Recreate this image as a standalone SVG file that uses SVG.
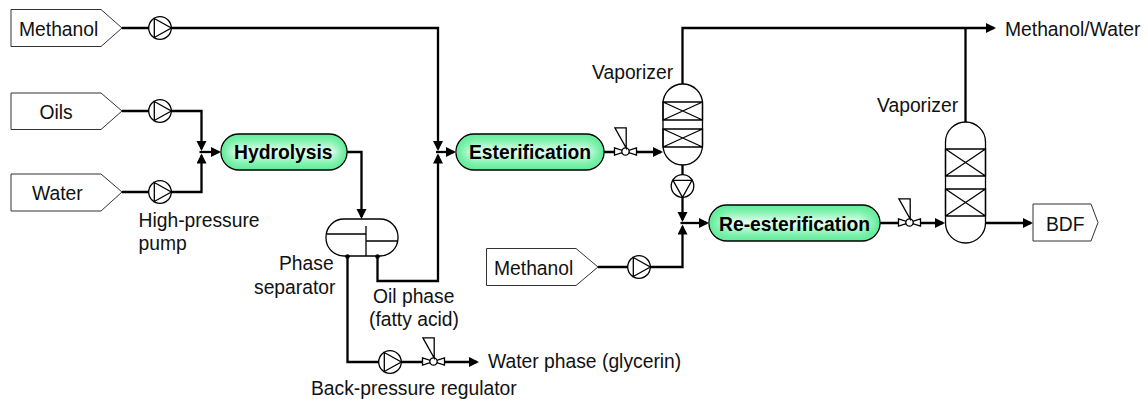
<svg xmlns="http://www.w3.org/2000/svg" xmlns:xlink="http://www.w3.org/1999/xlink" width="1148" height="399" viewBox="0 0 1148 399">
<style>
text{font-family:"Liberation Sans",Arial,sans-serif;font-size:19.3px;fill:#111}
.b{font-weight:bold;fill:#000}
.tag{fill:#fff;stroke:#333;stroke-width:1}
.ln{fill:none;stroke:#000;stroke-width:2.3;stroke-linejoin:miter}
.eq{fill:#fff;stroke:#000;stroke-width:1.3}
.thin{fill:none;stroke:#000;stroke-width:1.3}
.proc{fill:url(#g);stroke:#000;stroke-width:1.4}
.ends{fill:url(#h);stroke:none}
</style>
<defs>
<linearGradient id="g" x1="0" y1="0" x2="0" y2="1">
<stop offset="0" stop-color="#5cec98"/><stop offset="0.2" stop-color="#86f3b2"/><stop offset="0.5" stop-color="#eafff3"/><stop offset="0.8" stop-color="#86f3b2"/><stop offset="1" stop-color="#5cec98"/>
</linearGradient>
<linearGradient id="h" x1="0" y1="0" x2="1" y2="0">
<stop offset="0" stop-color="#5cec98"/><stop offset="0.12" stop-color="#5cec98" stop-opacity="0"/><stop offset="0.88" stop-color="#5cec98" stop-opacity="0"/><stop offset="1" stop-color="#5cec98"/>
</linearGradient>
<marker id="a" markerUnits="userSpaceOnUse" markerWidth="11" markerHeight="11" refX="8" refY="5" orient="auto"><path d="M0 0L10 5L0 10Z" fill="#000"/></marker>
<g id="pump"><circle r="11.3" class="eq"/><path d="M-5.700-9.500L11.300 0L-5.700 9.500Z" class="thin"/></g>
<g id="valve"><path d="M-11-3.600L0 0L-11 3.600Z M11-3.600L0 0L11 3.600Z" class="eq"/><circle r="3.700" class="eq"/><path d="M-10.600-23.600H0.700V-3.500L-10.600-23.600Z" class="thin"/></g>
</defs>
<g id="connectors">
<path class="ln" d="M122 28H438V149" marker-end="url(#a)"/>
<path class="ln" d="M122 111H201.500V149" marker-end="url(#a)"/>
<path class="ln" d="M122 192H201.500V155.500" marker-end="url(#a)"/>
<path class="ln" d="M199.500 152H219" marker-end="url(#a)"/>
<path class="ln" d="M347 152H361.500V217" marker-end="url(#a)"/>
<path class="ln" d="M377.500 256V281H438V155.500" marker-end="url(#a)"/>
<path class="ln" d="M436 152H454" marker-end="url(#a)"/>
<path class="ln" d="M604 152H661" marker-end="url(#a)"/>
<path class="ln" d="M682.500 84V28H994" marker-end="url(#a)"/>
<path class="ln" d="M965.500 122V28"/>
<path class="ln" d="M682.500 165V220" marker-end="url(#a)"/>
<path class="ln" d="M598 267H682.500V226.500" marker-end="url(#a)"/>
<path class="ln" d="M680.500 223H707" marker-end="url(#a)"/>
<path class="ln" d="M880 223H943" marker-end="url(#a)"/>
<path class="ln" d="M985 223H1031" marker-end="url(#a)"/>
<path class="ln" d="M347.500 256V362H477" marker-end="url(#a)"/>
</g>
<g id="feed-methanol-1"><path class="tag" d="M11 9.500H101L122 28L101 46.500H11Z"/><text x="19" y="36">Methanol</text></g>
<g id="feed-oils"><path class="tag" d="M11 93H101L122 111L101 129.500H11Z"/><text x="39.500" y="118.500">Oils</text></g>
<g id="feed-water"><path class="tag" d="M11 174H101L122 192L101 211H11Z"/><text x="32" y="199.500">Water</text></g>
<g id="feed-methanol-2"><path class="tag" d="M486.500 248.500H576L598 267L576 285.500H486.500Z"/><text x="494" y="275">Methanol</text></g>
<g id="pump-1"><use xlink:href="#pump" href="#pump" x="160" y="28"/></g>
<g id="pump-2"><use xlink:href="#pump" href="#pump" x="160" y="111"/></g>
<g id="pump-3"><use xlink:href="#pump" href="#pump" x="160" y="192"/></g>
<g id="pump-4"><use xlink:href="#pump" href="#pump" x="390" y="362"/></g>
<g id="pump-5"><use xlink:href="#pump" href="#pump" x="639" y="267"/></g>
<g id="pump-6"><g transform="translate(682.500 186) rotate(90)"><use xlink:href="#pump" href="#pump"/></g></g>
<g id="valve-1"><use xlink:href="#valve" href="#valve" x="433.500" y="361.500"/></g>
<g id="valve-2"><use xlink:href="#valve" href="#valve" x="625.500" y="151.500"/></g>
<g id="valve-3"><use xlink:href="#valve" href="#valve" x="909.500" y="222.500"/></g>
<g id="hydrolysis"><rect class="proc" x="221" y="134" width="126" height="36" rx="18"/><rect class="ends" x="221.700" y="134.700" width="124.600" height="34.600" rx="17.300"/><text class="b" x="234" y="159">Hydrolysis</text></g>
<g id="esterification"><rect class="proc" x="456" y="134" width="148" height="36" rx="18"/><rect class="ends" x="456.700" y="134.700" width="146.600" height="34.600" rx="17.300"/><text class="b" x="469" y="159">Esterification</text></g>
<g id="re-esterification"><rect class="proc" x="709" y="205" width="171" height="36" rx="18"/><rect class="ends" x="709.700" y="205.700" width="169.600" height="34.600" rx="17.300"/><text class="b" x="719" y="231">Re-esterification</text></g>
<g id="phase-separator"><rect class="eq" x="326" y="219" width="72" height="37" rx="18"/><path class="thin" d="M326 234H366M366 226V256M366 241H398"/><circle cx="347.500" cy="256.500" r="2.300"/><circle cx="377.500" cy="256.500" r="2.300"/></g>
<g id="vaporizer-1"><rect class="eq" x="663" y="84" width="39.500" height="81" rx="19.700"/><path class="thin" d="M663 102H702.500V120H663ZM663 120L702.500 102M663 102L702.500 120M663 129H702.500V147H663ZM663 147L702.500 129M663 129L702.500 147"/></g>
<g id="vaporizer-2"><rect class="eq" x="945.500" y="122" width="40" height="121" rx="20"/><path class="thin" d="M945.500 149H985.500V176H945.500ZM945.500 176L985.500 149M945.500 149L985.500 176M945.500 189H985.500V216H945.500ZM945.500 216L985.500 189M945.500 189L985.500 216"/></g>
<g id="product-bdf"><path class="tag" d="M1033 204H1091L1098 222.500L1091 241H1033Z"/><text x="1046" y="231">BDF</text></g>
<g id="labels">
<text x="138.500" y="227">High-pressure</text>
<text x="138.500" y="250">pump</text>
<text x="279" y="270">Phase</text>
<text x="254" y="294">separator</text>
<text x="373" y="303">Oil phase</text>
<text x="369" y="326">(fatty acid)</text>
<text x="488" y="368">Water phase (glycerin)</text>
<text x="311" y="395">Back-pressure regulator</text>
<text x="592" y="79">Vaporizer</text>
<text x="877" y="112">Vaporizer</text>
<text x="1005" y="36">Methanol/Water</text>
</g>
</svg>
